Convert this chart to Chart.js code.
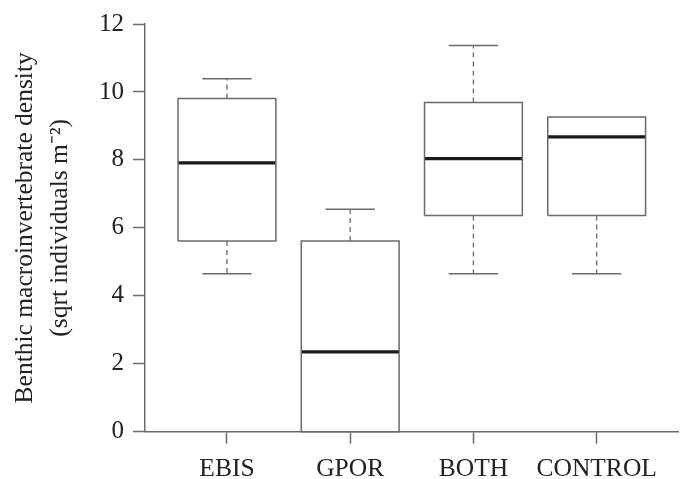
<!DOCTYPE html>
<html><head><meta charset="utf-8">
<script src="https://cdn.jsdelivr.net/npm/chart.js@4"></script>
<style>html,body{margin:0;padding:0;background:#fff}</style>
</head><body>
<canvas id="c" width="683" height="479"></canvas>
<script>
const categories = ['EBIS', 'GPOR', 'BOTH', 'CONTROL'];
const whiskerLow = [4.65, 0, 4.65, 4.65];
const q1 = [5.61, 0, 6.36, 6.36];
const median = [7.91, 2.35, 8.04, 8.68];
const q3 = [9.81, 5.61, 9.69, 9.26];
const whiskerHigh = [10.39, 6.55, 11.37, 9.26];
const yTicks = [0, 2, 4, 6, 8, 10, 12];
const yTitle = ['Benthic macroinvertebrate density', '(sqrt individuals m\u207B\u00B2)'];

const BOX_HALF = 0.397, CAP_HALF = 0.2;
const LINE = '#6a6a6a';
const TEXT = '#222222';
const FONT = "'Liberation Serif', 'Times New Roman', serif";

function seg(points, opts) {
  return Object.assign({
    data: points, showLine: true, pointRadius: 0, pointHoverRadius: 0,
    fill: false, tension: 0, clip: false, borderColor: LINE, borderWidth: 1.5
  }, opts || {});
}

const datasets = [];
categories.forEach((c, i) => {
  if (whiskerHigh[i] > q3[i]) {
    datasets.push(seg([{x: i, y: q3[i]}, {x: i, y: whiskerHigh[i]}], {borderDash: [5, 4], borderWidth: 1.3}));
    datasets.push(seg([{x: i - CAP_HALF, y: whiskerHigh[i]}, {x: i + CAP_HALF, y: whiskerHigh[i]}]));
  }
  if (whiskerLow[i] < q1[i]) {
    datasets.push(seg([{x: i, y: q1[i]}, {x: i, y: whiskerLow[i]}], {borderDash: [5, 4], borderWidth: 1.3}));
    datasets.push(seg([{x: i - CAP_HALF, y: whiskerLow[i]}, {x: i + CAP_HALF, y: whiskerLow[i]}]));
  }
  datasets.push(seg([
    {x: i - BOX_HALF, y: q1[i]}, {x: i + BOX_HALF, y: q1[i]},
    {x: i + BOX_HALF, y: q3[i]}, {x: i - BOX_HALF, y: q3[i]},
    {x: i - BOX_HALF, y: q1[i]}
  ], {borderJoinStyle: 'miter'}));
  datasets.push(seg([{x: i - BOX_HALF, y: median[i]}, {x: i + BOX_HALF, y: median[i]}], {borderColor: '#1a1a1a', borderWidth: 3.2}));
});

new Chart(document.getElementById('c'), {
  type: 'scatter',
  data: {datasets},
  options: {
    responsive: false,
    animation: false,
    devicePixelRatio: 1,
    layout: {padding: {top: 19.5, right: 5, left: 0, bottom: 0}},
    plugins: {legend: {display: false}, tooltip: {enabled: false}},
    scales: {
      x: {
        type: 'linear', min: -0.665, max: 3.66,
        afterBuildTicks: s => { s.ticks = categories.map((c, i) => ({value: i})); },
        afterFit: s => { s.height = 47.3; },
        ticks: {
          autoSkip: false, maxRotation: 0, padding: 10, color: TEXT,
          font: {family: FONT, size: 25.5},
          callback: v => categories[v]
        },
        grid: {drawOnChartArea: false, drawTicks: true, tickLength: 12, tickColor: LINE, tickWidth: 1.5},
        border: {display: true, color: LINE, width: 1.5}
      },
      y: {
        type: 'linear', min: 0, max: 12,
        afterBuildTicks: s => { s.ticks = yTicks.map(v => ({value: v})); },
        afterFit: s => { s.width = 145; },
        ticks: {padding: 9, color: TEXT, font: {family: FONT, size: 25}},
        grid: {drawOnChartArea: false, drawTicks: true, tickLength: 12, tickColor: LINE, tickWidth: 1.5},
        border: {display: true, color: LINE, width: 1.5},
        title: {
          display: true, text: yTitle, color: TEXT,
          font: {family: FONT, size: 25.5, lineHeight: 1.37},
          padding: {top: 7.5, bottom: 0}
        }
      }
    }
  }
});
</script>
</body></html>
